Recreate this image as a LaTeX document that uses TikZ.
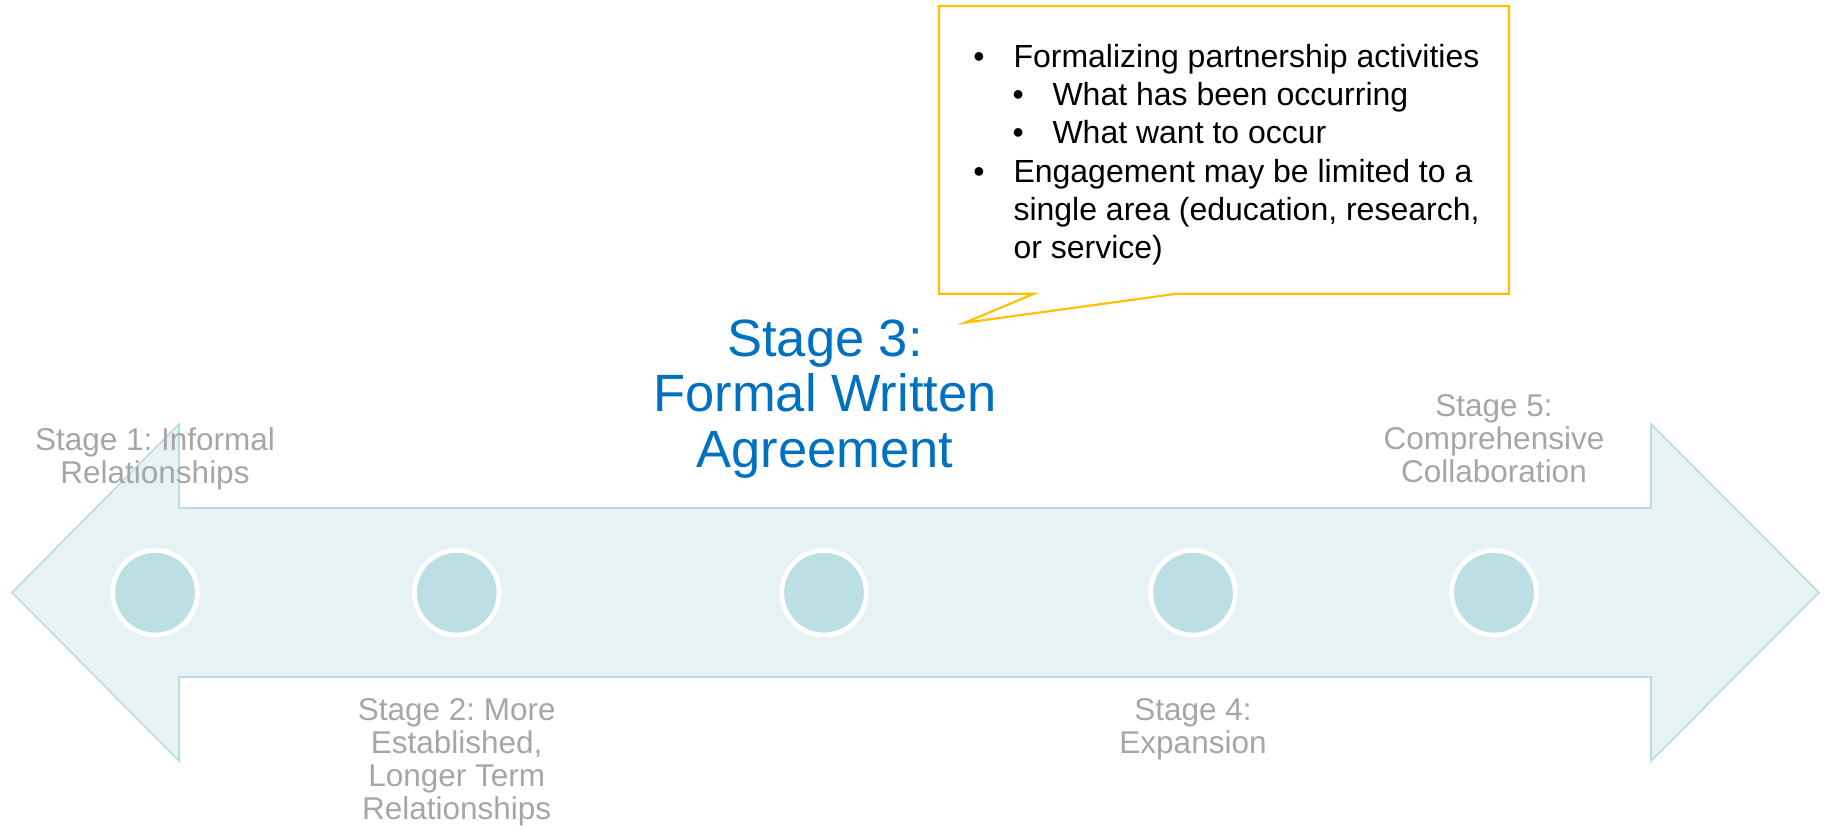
\documentclass[tikz,border=0pt]{standalone}
\usepackage{fontspec}
\setmainfont{Liberation Sans}
\frenchspacing
\definecolor{arrowfill}{HTML}{E6F2F4}
\definecolor{arrowline}{HTML}{B7DDE1}
\definecolor{dotfill}{HTML}{BBDFE3}
\definecolor{stagegray}{HTML}{A6A6A6}
\definecolor{stageblue}{HTML}{0070C0}
\definecolor{calloutline}{HTML}{FFC000}
\begin{document}
\begin{tikzpicture}[x=1pt,y=-1pt,
  stagedot/.style={circle, inner sep=0pt, minimum size=84.6pt, fill=dotfill, draw=white, line width=4.7pt},
  stagelabel/.style={align=center, inner sep=0pt, text=stagegray, font=\fontsize{31.5}{33}\selectfont, anchor=base},
  mainlabel/.style={align=center, inner sep=0pt, text=stageblue, font=\fontsize{52.5}{55.5}\selectfont, anchor=base},
  calltext/.style={inner sep=0pt, anchor=base west, font=\fontsize{32}{38}\selectfont},
  bulletmark/.style={inner sep=0pt, anchor=base, font=\fontsize{32}{38}\selectfont},
  bigarrow/.style={fill=arrowfill, draw=arrowline, line width=1.6pt, line join=miter},
  calloutshape/.style={fill=white, draw=calloutline, line width=2.2pt, line join=miter}
]
\useasboundingbox (0,0) rectangle (1825,828);

% double arrow
\draw[bigarrow] (12,592.5) -- (179,424) -- (179,508) -- (1651,508) -- (1651,424)
  -- (1819,592.5) -- (1651,761) -- (1651,677) -- (179,677) -- (179,761) -- cycle;

% stage dots
\node[stagedot] (d1) at (155,592.7) {};
\node[stagedot] (d2) at (456.7,592.7) {};
\node[stagedot] (d3) at (824,592.7) {};
\node[stagedot] (d4) at (1193,592.7) {};
\node[stagedot] (d5) at (1494,592.7) {};

% stage labels (anchored at the baseline of their last line)
\node[stagelabel] (s1) at (155,483) {Stage 1: Informal\\Relationships};
\node[stagelabel] (s2) at (456.7,819) {Stage 2: More\\Established,\\Longer Term\\Relationships};
\node[mainlabel] (s3) at (825,467) {Stage 3:\\Formal Written\\Agreement};
\node[stagelabel] (s4) at (1193,753) {Stage 4:\\Expansion};
\node[stagelabel] (s5) at (1494,482.5) {Stage 5:\\Comprehensive\\Collaboration};

% callout
\coordinate (tip) at (965,322.7);
\draw[calloutshape] (939,6) -- (1509,6) -- (1509,293.7) -- (1177,293.7) -- (tip)
  -- (1034,293.7) -- (939,293.7) -- cycle;

\node[bulletmark] (b1) at (979,67.7) {•};
\node[calltext] (t1) at (1013.3,67.7) {Formalizing partnership activities};
\node[bulletmark] (b2) at (1018.3,105.8) {•};
\node[calltext] (t2) at (1052.3,105.8) {What has been occurring};
\node[bulletmark] (b3) at (1018.3,143.9) {•};
\node[calltext] (t3) at (1052.3,143.9) {What want to occur};
\node[bulletmark] (b4) at (979,182) {•};
\node[calltext] (t4) at (1013.3,182) {Engagement may be limited to a};
\node[calltext] (t5) at (1013.3,220.1) {single area (education, research,};
\node[calltext] (t6) at (1013.3,258.2) {or service)};
\end{tikzpicture}
\end{document}
